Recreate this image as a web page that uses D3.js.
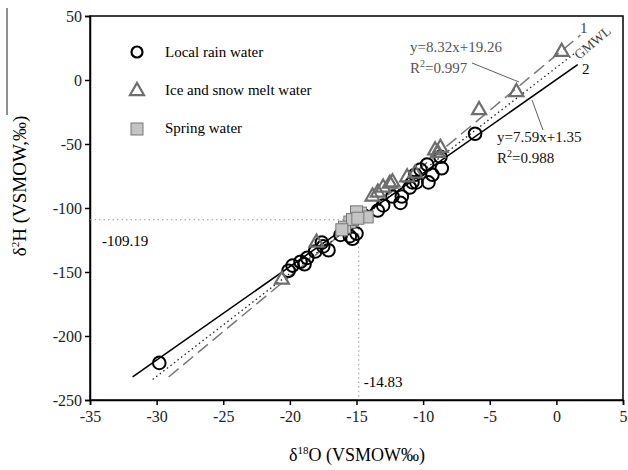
<!DOCTYPE html>
<html>
<head>
<meta charset="utf-8">
<script src="https://cdn.jsdelivr.net/npm/d3@7"></script>
<style>
  body { margin: 0; background: #fff; }
  text { font-family: "Liberation Serif", "DejaVu Serif", serif; }
</style>
</head>
<body>
<div id="chart"></div>
<script>
// data: [δ18O, δ2H]
const rainPoints = [
  [-29.8, -221], [-6.1, -42], [-8.7, -60], [-8.6, -69], [-9.6, -80], [-9.7, -66],
  [-10.2, -70], [-10.6, -74], [-10.8, -80], [-9.3, -74], [-10.5, -80], [-11.0, -84],
  [-11.6, -91], [-12.3, -91], [-11.7, -96], [-13.0, -98], [-13.4, -102], [-14.4, -106],
  [-15.0, -120], [-15.5, -122], [-16.2, -121], [-15.3, -124], [-17.6, -127], [-17.5, -130],
  [-17.1, -133], [-18.1, -134], [-18.7, -139], [-18.9, -144], [-19.2, -142], [-19.8, -145],
  [-20.1, -149]
];
const iceSnowPoints = [
  [0.4, 22], [-3.0, -9.5], [-5.8, -23.5], [-9.1, -55], [-8.7, -53], [-8.9, -57],
  [-11.2, -76], [-10.6, -73], [-12.3, -80], [-12.5, -81], [-13.0, -84], [-13.4, -88],
  [-13.8, -91], [-18.0, -127], [-20.6, -156]
];
const springPoints = [
  [-14.7, -104], [-14.2, -107], [-15.5, -111], [-15.9, -115], [-15.0, -103],
  [-15.3, -109], [-14.9, -108], [-16.1, -117]
];

// fitted lines as drawn in the figure: end points [δ18O, δ2H]
const fitLines = [
  { name: "1", label: "y=8.32x+19.26", r2: "0.997", from: [-29.1, -232], to: [1.8, 35] },
  { name: "GMWL", label: "y=8x+10", r2: null, from: [-30.3, -234], to: [1.4, 21] },
  { name: "2", label: "y=7.59x+1.35", r2: "0.988", from: [-31.8, -232], to: [1.6, 12] }
];

const meanO = -14.83;
const meanH = -109.19;

const xTicks = [-35, -30, -25, -20, -15, -10, -5, 0, 5];
const yTicks = [50, 0, -50, -100, -150, -200, -250];

const width = 628;
const height = 470;
const margin = { top: 16, right: 5, bottom: 70, left: 90 };

const svg = d3.select("#chart")
  .append("svg")
  .attr("width", width)
  .attr("height", height);

const x = d3.scaleLinear()
  .domain([-35, 5])
  .range([margin.left, width - margin.right]);

const y = d3.scaleLinear()
  .domain([-250, 50])
  .range([height - margin.bottom, margin.top]);

// frame
svg.append("rect")
  .attr("x", x(-35)).attr("y", y(50))
  .attr("width", x(5) - x(-35)).attr("height", y(-250) - y(50))
  .attr("fill", "none").attr("stroke", "#000").attr("stroke-width", 1.5);

// axes
const xAxis = svg.append("g")
  .attr("transform", `translate(0,${y(-250)})`)
  .call(d3.axisBottom(x).tickValues(xTicks).tickFormat(d => String(d)).tickSize(5).tickPadding(6));
const yAxis = svg.append("g")
  .attr("transform", `translate(${x(-35)},0)`)
  .call(d3.axisLeft(y).tickValues(yTicks).tickFormat(d => String(d)).tickSize(5).tickPadding(3));

[xAxis, yAxis].forEach(g => {
  g.select(".domain").attr("stroke-width", 1.5);
  g.selectAll(".tick line").attr("stroke-width", 1.5);
  g.selectAll(".tick text")
    .attr("font-family", "Liberation Serif")
    .attr("font-size", 16)
    .attr("fill", "#222");
});

// mean reference lines
svg.append("line")
  .attr("x1", x(-35)).attr("x2", x(meanO))
  .attr("y1", y(meanH)).attr("y2", y(meanH))
  .attr("stroke", "#999").attr("stroke-dasharray", "1.5,3");
svg.append("line")
  .attr("x1", x(meanO)).attr("x2", x(meanO))
  .attr("y1", y(meanH)).attr("y2", y(-250))
  .attr("stroke", "#999").attr("stroke-dasharray", "1.5,3");
svg.append("text")
  .attr("x", x(-35) + 12).attr("y", y(meanH) + 26)
  .attr("font-size", 15).text(meanH.toFixed(2));
svg.append("text")
  .attr("x", x(meanO) + 5).attr("y", y(-250) - 13)
  .attr("font-size", 15).text(meanO.toFixed(2));

// fitted lines
const lineStyles = {
  "1": { stroke: "#777", dash: "13,6", w: 1.5 },
  "GMWL": { stroke: "#222", dash: "1.5,3", w: 1.3 },
  "2": { stroke: "#000", dash: null, w: 1.6 }
};
fitLines.forEach(l => {
  const s = lineStyles[l.name];
  svg.append("line")
    .attr("x1", x(l.from[0])).attr("y1", y(l.from[1]))
    .attr("x2", x(l.to[0])).attr("y2", y(l.to[1]))
    .attr("stroke", s.stroke)
    .attr("stroke-width", s.w)
    .attr("stroke-dasharray", s.dash);
});

// points
svg.append("g")
  .selectAll("circle")
  .data(rainPoints)
  .join("circle")
  .attr("cx", d => x(d[0]))
  .attr("cy", d => y(d[1]))
  .attr("r", 6.3)
  .attr("fill", "none")
  .attr("stroke", "#000")
  .attr("stroke-width", 2);

const tri = d3.symbol().type(d3.symbolTriangle).size(85);
svg.append("g")
  .selectAll("path")
  .data(iceSnowPoints)
  .join("path")
  .attr("d", tri)
  .attr("transform", d => `translate(${x(d[0])},${y(d[1])})`)
  .attr("fill", "none")
  .attr("stroke", "#6e6e6e")
  .attr("stroke-width", 2.2);

svg.append("g")
  .selectAll("rect")
  .data(springPoints)
  .join("rect")
  .attr("x", d => x(d[0]) - 6)
  .attr("y", d => y(d[1]) - 6)
  .attr("width", 12)
  .attr("height", 12)
  .attr("fill", "#c4c4c4")
  .attr("stroke", "#777")
  .attr("stroke-width", 1);

// legend
const legend = svg.append("g").attr("transform", "translate(137,0)");
legend.append("circle").attr("cx", 0).attr("cy", 52).attr("r", 5.5)
  .attr("fill", "none").attr("stroke", "#000").attr("stroke-width", 2.2);
legend.append("path").attr("d", tri).attr("transform", "translate(0,91)")
  .attr("fill", "none").attr("stroke", "#6e6e6e").attr("stroke-width", 2.2);
legend.append("rect").attr("x", -6).attr("y", 123).attr("width", 12).attr("height", 12)
  .attr("fill", "#c4c4c4").attr("stroke", "#777");
const legendLabels = ["Local rain water", "Ice and snow melt water", "Spring water"];
legend.selectAll("text.lg")
  .data(legendLabels)
  .join("text")
  .attr("class", "lg")
  .attr("x", 28)
  .attr("y", (d, i) => 57 + i * 38)
  .attr("font-size", 15)
  .text(d => d);

// equations
function equation(l, px, py, color) {
  svg.append("text").attr("x", px).attr("y", py).attr("font-size", 15)
    .attr("fill", color).text(l.label);
  const r = svg.append("text").attr("x", px).attr("y", py + 21).attr("font-size", 15)
    .attr("fill", color);
  r.append("tspan").text("R");
  r.append("tspan").attr("dy", -6).attr("font-size", 10).text("2");
  r.append("tspan").attr("dy", 6).text("=" + l.r2);
}
equation(fitLines[0], 410, 52, "#555");
equation(fitLines[2], 497, 142, "#111");
svg.append("line").attr("x1", 472).attr("y1", 63).attr("x2", 519).attr("y2", 82)
  .attr("stroke", "#333").attr("stroke-width", 0.8);
svg.append("line").attr("x1", 532).attr("y1", 100).attr("x2", 543).attr("y2", 130)
  .attr("stroke", "#333").attr("stroke-width", 0.8);

// line labels
svg.append("text").attr("x", 580).attr("y", 33).attr("font-family", "Liberation Sans")
  .attr("font-size", 15).attr("fill", "#444").text("1");
svg.append("text").attr("x", 582).attr("y", 74).attr("font-family", "Liberation Sans")
  .attr("font-size", 15).text("2");
svg.append("text").attr("transform", "translate(579,60) rotate(-40)")
  .attr("font-family", "Liberation Sans").attr("font-size", 13.5).attr("fill", "#444").text("GMWL");

// axis titles
const xt = svg.append("text").attr("x", 357).attr("y", 461)
  .attr("text-anchor", "middle").attr("font-size", 18);
xt.append("tspan").text("δ");
xt.append("tspan").attr("dy", -7).attr("font-size", 11).text("18");
xt.append("tspan").attr("dy", 7).text("O (VSMOW‰)");

const yt = svg.append("text").attr("transform", "translate(26,186) rotate(-90)")
  .attr("text-anchor", "middle").attr("font-size", 19);
yt.append("tspan").text("δ");
yt.append("tspan").attr("dy", -7).attr("font-size", 11).text("2");
yt.append("tspan").attr("dy", 7).text("H (VSMOW,‰)");
svg.append("line").attr("x1", 7).attr("x2", 7).attr("y1", 8).attr("y2", 115)
  .attr("stroke", "#222").attr("stroke-width", 1);
</script>
</body>
</html>
